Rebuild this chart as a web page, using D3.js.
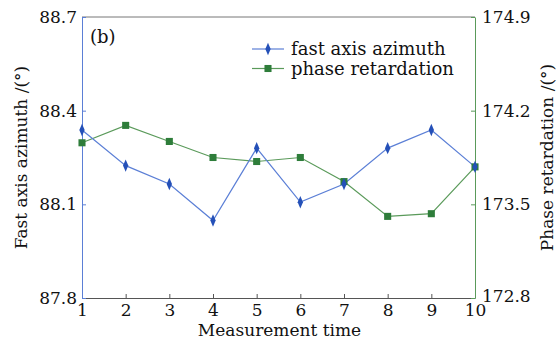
<!DOCTYPE html>
<html>
<head>
<meta charset="utf-8">
<script src="https://cdn.jsdelivr.net/npm/d3@7"></script>
<style>
  html, body { margin: 0; padding: 0; background: #fff; }
</style>
</head>
<body>
<svg id="chart" width="558" height="345"></svg>
<script>
const times = [1, 2, 3, 4, 5, 6, 7, 8, 9, 10];
const azimuth = [88.338, 88.224, 88.165, 88.048, 88.28, 88.107, 88.165, 88.28, 88.338, 88.22];
const retardation = [173.96, 174.09, 173.97, 173.85, 173.82, 173.85, 173.67, 173.41, 173.43, 173.78];
const leftTicks = [87.8, 88.1, 88.4, 88.7];
const rightTicks = [172.8, 173.5, 174.2, 174.9];

const FONT = '"DejaVu Serif", "Liberation Serif", serif';
const margin = { top: 17, right: 83, bottom: 47, left: 82 };
const W = 558, H = 345;
const width = W - margin.left - margin.right;
const height = H - margin.top - margin.bottom;

const blueLine = '#5b7fd6', blueMark = '#2450b8';
const greenLine = '#5a9a5a', greenMark = '#2e7d3a';

const svg = d3.select('#chart').attr('font-family', FONT);
const g = svg.append('g').attr('transform', `translate(${margin.left},${margin.top})`);

const x = d3.scaleLinear().domain([1, 10]).range([0, width]);
const yL = d3.scaleLinear().domain([87.8, 88.7]).range([height, 0]);
const yR = d3.scaleLinear().domain([172.8, 174.9]).range([height, 0]);

function styleAxis(sel, col) {
  sel.attr('font-family', FONT).attr('font-size', 17);
  sel.select('.domain').attr('stroke', col);
  sel.selectAll('.tick line').attr('stroke', col);
  sel.selectAll('text').attr('fill', '#111');
}

// frame top
g.append('line').attr('x1', 0).attr('x2', width).attr('y1', 0).attr('y2', 0)
  .attr('stroke', '#777').attr('stroke-width', 1);

// bottom axis
const xAxis = g.append('g').attr('transform', `translate(0,${height})`)
  .call(d3.axisBottom(x).tickValues(times).tickFormat(d3.format('d')).tickSizeInner(-4).tickSizeOuter(0).tickPadding(6));
styleAxis(xAxis, '#555');

// left axis
const lAxis = g.append('g')
  .call(d3.axisLeft(yL).tickValues(leftTicks).tickFormat(d3.format('.1f')).tickSizeInner(-4).tickSizeOuter(0).tickPadding(5));
styleAxis(lAxis, blueLine);

// right axis
const rAxis = g.append('g').attr('transform', `translate(${width},0)`)
  .call(d3.axisRight(yR).tickValues(rightTicks).tickFormat(d3.format('.1f')).tickSizeInner(-4).tickSizeOuter(0).tickPadding(7));
styleAxis(rAxis, greenLine);
rAxis.selectAll('.tick').filter(d => d === 172.8).select('text').attr('dy', '0.2em');

// series
const azData = times.map((t, i) => ({ t, v: azimuth[i] }));
const reData = times.map((t, i) => ({ t, v: retardation[i] }));

g.append('path').datum(reData)
  .attr('fill', 'none').attr('stroke', greenLine).attr('stroke-width', 1.2)
  .attr('d', d3.line().x(d => x(d.t)).y(d => yR(d.v)));
g.append('path').datum(azData)
  .attr('fill', 'none').attr('stroke', blueLine).attr('stroke-width', 1.2)
  .attr('d', d3.line().x(d => x(d.t)).y(d => yL(d.v)));

const sq = d3.symbol().type(d3.symbolSquare).size(50);
const dia = d3.symbol().type(d3.symbolDiamond).size(34);

g.selectAll('path.re').data(reData).enter().append('path')
  .attr('class', 're').attr('d', sq)
  .attr('transform', d => `translate(${x(d.t)},${yR(d.v)})`)
  .attr('fill', greenMark);
g.selectAll('path.az').data(azData).enter().append('path')
  .attr('class', 'az').attr('d', dia)
  .attr('transform', d => `translate(${x(d.t)},${yL(d.v)}) scale(0.85,1.15)`)
  .attr('fill', blueMark);

// panel label
g.append('text').attr('x', 8).attr('y', 26).attr('font-size', 18).attr('fill', '#111').text('(b)');

// legend
const legend = [
  { name: 'fast axis azimuth', line: blueLine, mark: blueMark, sym: dia, sc: 'scale(0.85,1.15)' },
  { name: 'phase retardation', line: greenLine, mark: greenMark, sym: sq, sc: '' }
];
const lg = g.append('g').attr('transform', 'translate(170,32)');
legend.forEach((d, i) => {
  const row = lg.append('g').attr('transform', `translate(0,${i * 19.5})`);
  row.append('line').attr('x1', 0).attr('x2', 32).attr('stroke', d.line).attr('stroke-width', 1.2);
  row.append('path').attr('d', d.sym).attr('transform', `translate(16,0) ${d.sc}`).attr('fill', d.mark);
  row.append('text').attr('x', 39).attr('y', 6).attr('font-size', 18).attr('fill', '#111').text(d.name);
});

// axis titles
svg.append('text').attr('text-anchor', 'middle').attr('font-size', 17).attr('fill', '#111')
  .attr('transform', `translate(27,${margin.top + height / 2}) rotate(-90)`)
  .text('Fast axis azimuth /(°)');
svg.append('text').attr('text-anchor', 'middle').attr('font-size', 17).attr('fill', '#111')
  .attr('transform', `translate(553,${margin.top + height / 2}) rotate(-90)`)
  .text('Phase retardation /(°)');
svg.append('text').attr('text-anchor', 'middle').attr('font-size', 17).attr('fill', '#111')
  .attr('x', margin.left + width / 2 + 1).attr('y', 336)
  .text('Measurement time');
</script>
</body>
</html>
